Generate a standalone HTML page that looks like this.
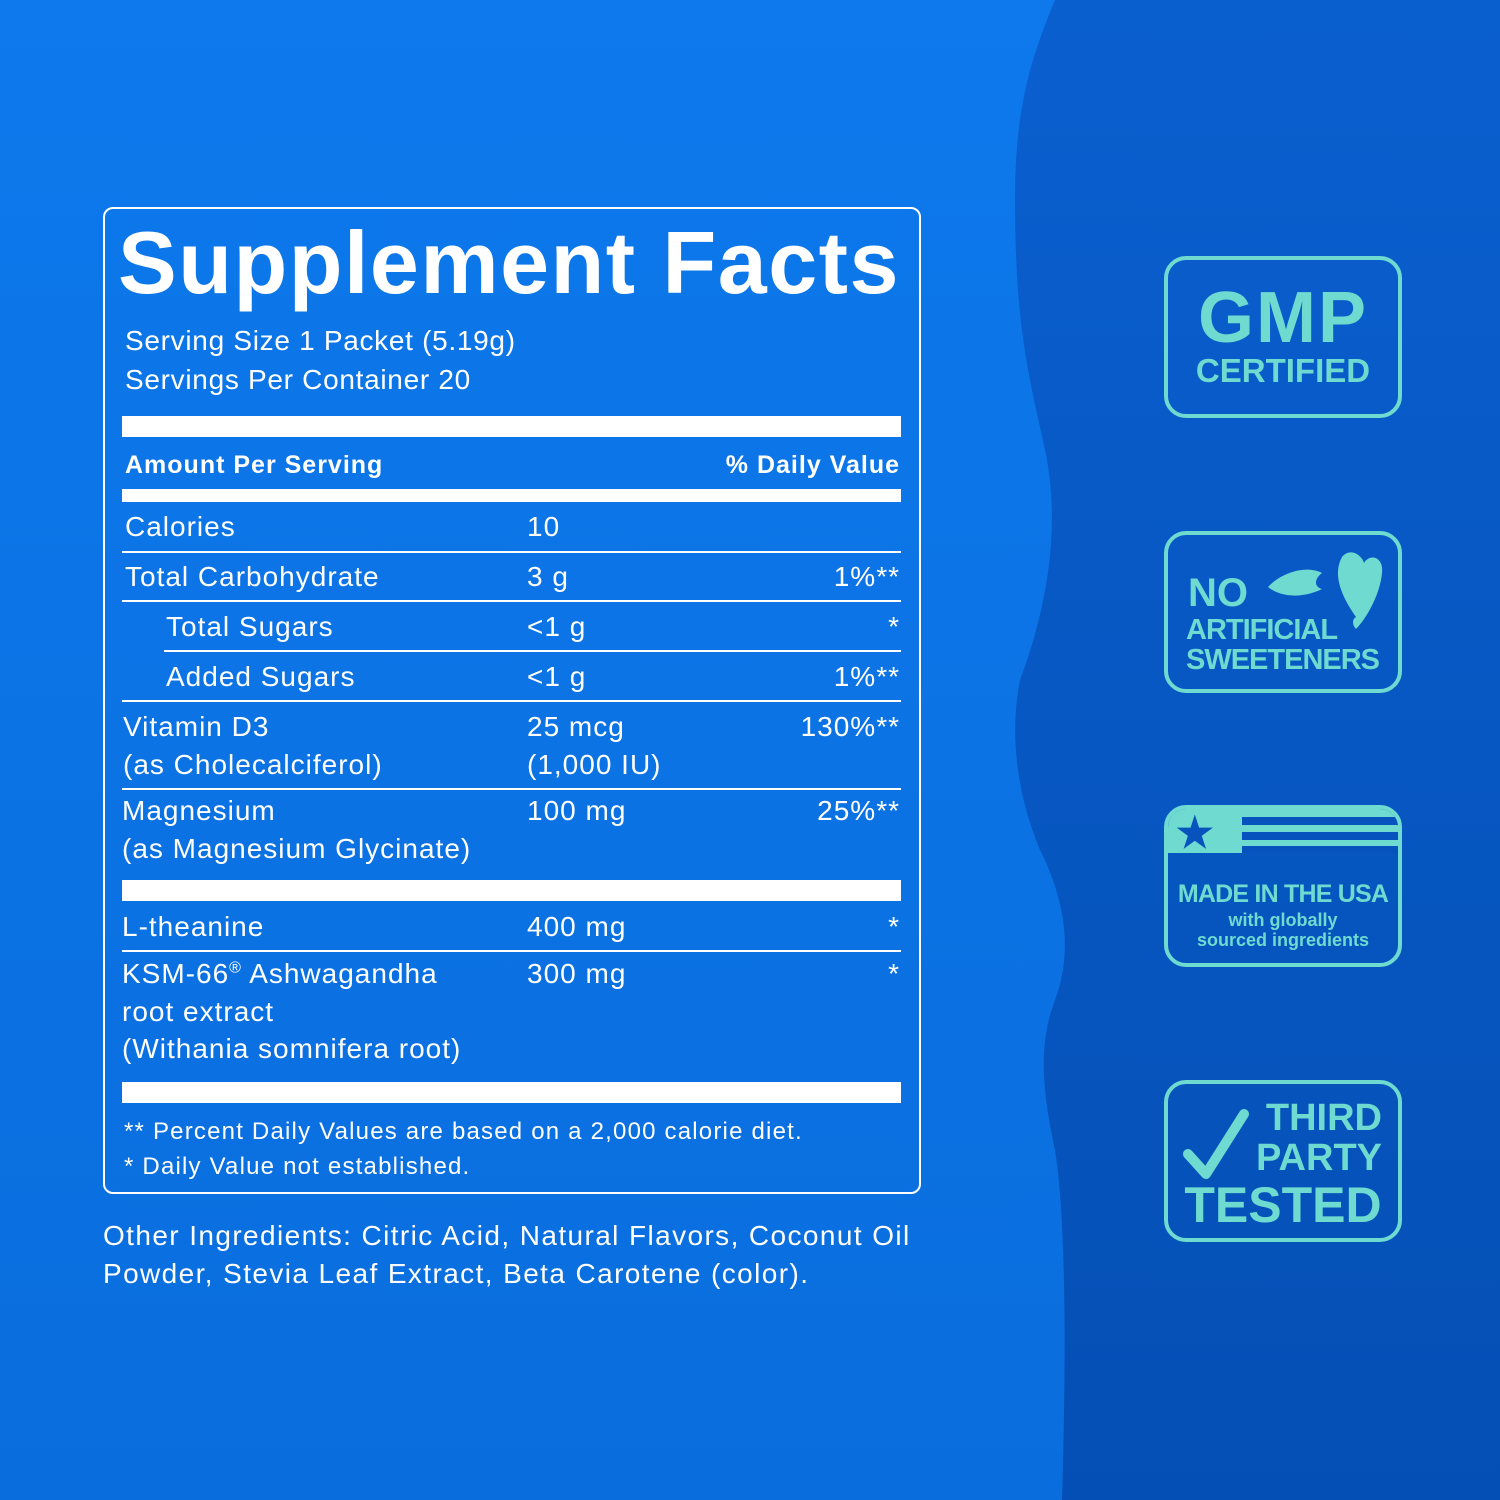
<!DOCTYPE html>
<html><head><meta charset="utf-8"><style>
*{margin:0;padding:0;box-sizing:border-box}
body{width:1500px;height:1500px;overflow:hidden;position:relative;background:#0b72e7;font-family:"Liberation Sans",sans-serif;color:#fff}
.t{position:absolute;white-space:nowrap;font-size:28px;letter-spacing:1px}
.b{position:absolute;background:#fff}
.badge{position:absolute;left:1164px;width:238px;border:4px solid #6fdad0;border-radius:22px;color:#6fdad0;font-weight:bold;text-align:center}
</style></head><body>
<svg style="position:absolute;left:0;top:0" width="1500" height="1500">
<defs><linearGradient id="g" x1="0" y1="0" x2="0" y2="1"><stop offset="0" stop-color="#0a5fcf"/><stop offset="1" stop-color="#044fb5"/></linearGradient>
<linearGradient id="l" x1="0" y1="0" x2="0" y2="1"><stop offset="0" stop-color="#0d79ec"/><stop offset="1" stop-color="#0a6ddd"/></linearGradient></defs>
<rect width="1500" height="1500" fill="url(#l)"/>
<path d="M1055 0 C1030 60 1015 110 1015 200 C1015 330 1030 380 1045 450 C1060 520 1050 600 1020 680 C1010 730 1015 790 1040 850 C1070 910 1070 960 1055 1000 C1040 1040 1040 1080 1055 1150 C1068 1230 1065 1400 1062 1500 L1500 1500 L1500 0 Z" fill="url(#g)"/>
</svg>
<div style="position:absolute;left:103px;top:207px;width:818px;height:987px;border:2px solid #fff;border-radius:10px"></div>
<div class="t" style="left:118px;top:212px;font-size:88px;font-weight:bold;letter-spacing:1.5px">Supplement Facts</div>
<div class="t" style="left:125px;top:325px;letter-spacing:0.7px">Serving Size 1 Packet (5.19g)</div>
<div class="t" style="left:125px;top:364px;letter-spacing:0.7px">Servings Per Container 20</div>
<div class="b" style="left:122px;top:416px;width:779px;height:21px"></div>
<div class="t" style="left:125px;top:451px;font-size:25px;font-weight:bold">Amount Per Serving</div>
<div class="t" style="right:600px;top:451px;font-size:25px;font-weight:bold">% Daily Value</div>
<div class="b" style="left:122px;top:489px;width:779px;height:13px"></div>
<div class="t" style="left:125px;top:511px">Calories</div><div class="t" style="left:527px;top:511px">10</div>
<div class="b" style="left:122px;top:551px;width:779px;height:2px"></div>
<div class="t" style="left:125px;top:561px">Total Carbohydrate</div><div class="t" style="left:527px;top:561px">3 g</div><div class="t" style="right:600px;top:561px">1%**</div>
<div class="b" style="left:122px;top:600px;width:779px;height:2px"></div>
<div class="t" style="left:166px;top:611px">Total Sugars</div><div class="t" style="left:527px;top:611px">&lt;1 g</div><div class="t" style="right:600px;top:611px">*</div>
<div class="b" style="left:164px;top:650px;width:737px;height:2px"></div>
<div class="t" style="left:166px;top:661px">Added Sugars</div><div class="t" style="left:527px;top:661px">&lt;1 g</div><div class="t" style="right:600px;top:661px">1%**</div>
<div class="b" style="left:122px;top:700px;width:779px;height:2px"></div>
<div class="t" style="left:123px;top:711px">Vitamin D3</div><div class="t" style="left:527px;top:711px">25 mcg</div><div class="t" style="right:600px;top:711px">130%**</div>
<div class="t" style="left:123px;top:749px">(as Cholecalciferol)</div><div class="t" style="left:527px;top:749px">(1,000 IU)</div>
<div class="b" style="left:122px;top:788px;width:779px;height:2px"></div>
<div class="t" style="left:122px;top:795px">Magnesium</div><div class="t" style="left:527px;top:795px">100 mg</div><div class="t" style="right:600px;top:795px">25%**</div>
<div class="t" style="left:122px;top:833px">(as Magnesium Glycinate)</div>
<div class="b" style="left:122px;top:880px;width:779px;height:21px"></div>
<div class="t" style="left:122px;top:911px">L-theanine</div><div class="t" style="left:527px;top:911px">400 mg</div><div class="t" style="right:600px;top:911px">*</div>
<div class="b" style="left:122px;top:950px;width:779px;height:2px"></div>
<div class="t" style="left:122px;top:958px">KSM-66<sup style="font-size:16px">®</sup> Ashwagandha</div><div class="t" style="left:527px;top:958px">300 mg</div><div class="t" style="right:600px;top:958px">*</div>
<div class="t" style="left:122px;top:996px">root extract</div>
<div class="t" style="left:122px;top:1033px">(Withania somnifera root)</div>
<div class="b" style="left:122px;top:1082px;width:779px;height:21px"></div>
<div class="t" style="left:124px;top:1118px;font-size:24px;letter-spacing:1.2px">** Percent Daily Values are based on a 2,000 calorie diet.</div>
<div class="t" style="left:124px;top:1153px;font-size:24px;letter-spacing:1.2px">* Daily Value not established.</div>
<div class="t" style="left:103px;top:1220px;font-size:28px;letter-spacing:1.4px">Other Ingredients: Citric Acid, Natural Flavors, Coconut Oil</div>
<div class="t" style="left:103px;top:1258px;font-size:28px;letter-spacing:1.4px">Powder, Stevia Leaf Extract, Beta Carotene (color).</div>

<div class="badge" style="top:256px;height:162px"><div style="font-size:72px;line-height:72px;margin-top:22px;letter-spacing:2px">GMP</div><div style="font-size:33px;line-height:34px">CERTIFIED</div></div>
<div class="badge" style="top:531px;height:162px;text-align:left">
<div style="position:absolute;left:20px;top:38px;font-size:40px;line-height:40px">NO</div>
<div style="position:absolute;left:18px;top:80px;font-size:29px;line-height:30px;letter-spacing:-1px">ARTIFICIAL<br>SWEETENERS</div>
<svg style="position:absolute;left:94px;top:12px" width="130" height="90"><path d="M6 40 C20 25 45 18 60 26 C52 32 52 40 60 42 C40 52 18 50 6 40Z" fill="#6fdad0"/><path d="M80 10 C88 0 100 8 102 16 C108 6 122 10 120 26 C118 48 104 72 94 82 C90 78 90 72 94 70 C80 50 70 28 80 10Z" fill="#6fdad0"/></svg>
</div>
<div class="badge" style="top:805px;height:162px;overflow:hidden">
<div style="position:absolute;left:0;top:0;width:230px;height:44px;background:#6fdad0"></div>
<div style="position:absolute;left:74px;top:8px;width:160px;height:8px;background:#0653bd"></div>
<div style="position:absolute;left:74px;top:23px;width:160px;height:8px;background:#0653bd"></div>
<div style="position:absolute;left:74px;top:37px;width:160px;height:7px;background:#0653bd"></div>
<div style="position:absolute;left:8px;top:4px;font-size:42px;line-height:40px;color:#0653bd">★</div>
<div style="position:absolute;left:0;right:0;top:72px;font-size:25px;line-height:26px;letter-spacing:-0.8px">MADE IN THE USA</div>
<div style="position:absolute;left:0;right:0;top:101px;font-size:18px;line-height:20px">with globally<br>sourced ingredients</div>
</div>
<div class="badge" style="top:1080px;height:162px">
<svg style="position:absolute;left:14px;top:16px" width="70" height="80"><path d="M6 54 L24 74 L62 14" stroke="#6fdad0" stroke-width="10" fill="none" stroke-linecap="round" stroke-linejoin="round"/></svg>
<div style="position:absolute;right:16px;top:14px;font-size:38px;line-height:40px;text-align:right">THIRD<br>PARTY</div>
<div style="position:absolute;left:0;right:0;top:96px;font-size:50px;line-height:50px">TESTED</div>
</div>
</body></html>
